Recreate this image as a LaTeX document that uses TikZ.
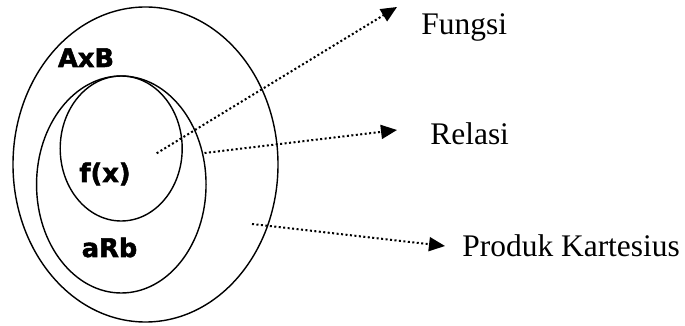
\documentclass[tikz,border=0pt]{standalone}
\usepackage{fontspec}
\setmainfont{Liberation Serif}
\newfontfamily\labelfont[BoldFeatures={FakeBold=2}]{DejaVu Sans}
\usepackage{tikz}
\usetikzlibrary{shapes.geometric,arrows.meta}

\begin{document}
\begin{tikzpicture}[
    himp/.style={draw, ellipse, line width=0.8pt, inner sep=0pt},
    lbl/.style={font=\labelfont\bfseries\fontsize{14.6}{17}\selectfont, anchor=base, inner sep=0pt},
    nama/.style={font=\fontsize{17.9}{20}\selectfont, anchor=base west, inner sep=0pt},
    panah/.style={-{Triangle[length=3.2mm,width=2.8mm]}, line width=1.15pt, dash pattern=on 1.15pt off 1.4pt}]
          \useasboundingbox (0,0) rectangle (13.7,6.52);
          % himpunan
          \node[himp, minimum width=5.3cm, minimum height=6.3cm] (kartesius) at (2.91,3.23) {};
          \node[himp, minimum width=3.39cm, minimum height=4.34cm] (relasi) at (2.426,2.83) {};
          \node[himp, minimum width=2.44cm, minimum height=2.9cm] (fungsi) at (2.424,3.55) {};
          \node[lbl] (lblAxB) at (1.72,5.18) {AxB};
          \node[lbl] (lblFx) at (2.10,2.88) {f(x)};
          \node[lbl] (lblaRb) at (2.19,1.38) {aRb};
          % keterangan
          \node[nama] (tFungsi) at (8.42,5.82) {Fungsi};
          \node[nama] (tRelasi) at (8.6,3.62) {Relasi};
          \node[nama] (tProduk) at (9.24,1.38) {Produk Kartesius};
          \coordinate (pF) at (3.134,3.454);
          \coordinate (uF) at (7.94,6.38);
          \coordinate (pR) at (4.09,3.46);
          \coordinate (uR) at (7.94,3.92);
          \coordinate (pP) at (5.04,2.04);
          \coordinate (uP) at (8.9,1.6);
          \draw [panah] (pF) -- (uF);
          \draw [panah] (pR) -- (uR);
          \draw [panah] (pP) -- (uP);
\end{tikzpicture}
\end{document}
